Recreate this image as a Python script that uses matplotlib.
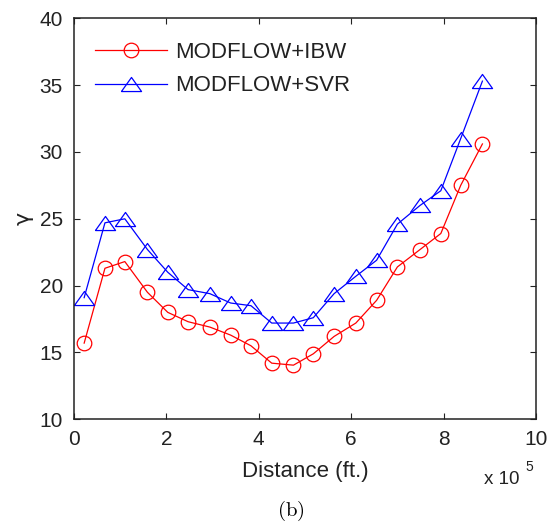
import matplotlib
matplotlib.use("Agg")
import matplotlib.pyplot as plt

# Data (x in units of 1e5 ft)
distance = [0.22, 0.67, 1.10, 1.59, 2.03, 2.47, 2.94, 3.39, 3.83, 4.28,
            4.75, 5.18, 5.63, 6.10, 6.55, 7.00, 7.49, 7.94, 8.37, 8.84]
ibw = [15.7, 21.3, 21.8, 19.5, 18.0, 17.3, 16.9, 16.3, 15.5, 14.2,
       14.05, 14.9, 16.2, 17.2, 18.9, 21.4, 22.7, 23.9, 27.5, 30.6]
svr = [19.1, 24.7, 25.0, 22.7, 21.0, 19.7, 19.4, 18.7, 18.5, 17.2,
       17.2, 17.6, 19.4, 20.7, 21.9, 24.6, 26.0, 27.1, 31.0, 35.3]
xticks = [0, 2, 4, 6, 8, 10]
yticks = [10, 15, 20, 25, 30, 35, 40]
labels = ["MODFLOW+IBW", "MODFLOW+SVR"]

plt.rcParams['font.family'] = ['Liberation Sans', 'DejaVu Sans']
plt.rcParams['mathtext.fontset'] = 'cm'

fig = plt.figure(figsize=(5.51, 5.31), dpi=100)
ax = fig.add_axes([74/551, 1-419.3/531, (536-74)/551, (419.3-18.3)/531])

tri = [(-1, -0.7), (1, -0.7), (0, 0.7), (-1, -0.7)]
ax.plot(distance, ibw, color='red', lw=0.9, marker='o', ms=10.5,
        mfc='none', mec='red', mew=0.9, label=labels[0])
ax.plot(distance, svr, color='blue', lw=0.9, marker=tri, ms=14.5,
        mfc='none', mec='blue', mew=0.9, label=labels[1])

ax.set_xlim(0, 10)
ax.set_ylim(10, 40)
ax.set_xticks(xticks)
ax.set_yticks(yticks)
ax.tick_params(direction='in', length=4, width=0.8, top=True, right=True,
               labelsize=15, colors='#222222', pad=8)
for s in ax.spines.values():
    s.set_linewidth(1.1)
    s.set_color('#222222')

ax.set_xlabel('Distance (ft.)', fontsize=16, color='#222222', labelpad=8)
ax.set_ylabel('γ', fontsize=16, color='#222222', labelpad=4,
              family=['DejaVu Sans'])

leg = ax.legend(loc='upper left', bbox_to_anchor=(0.008, 0.985), frameon=False,
                fontsize=16, handlelength=3.2, handletextpad=0.4,
                labelspacing=0.55, borderpad=0.3)
for t in leg.get_texts():
    t.set_color('#222222')

fig.text(484/551, 1-480/531, 'x 10', fontsize=13.5, color='#222222',
         ha='left', va='center')
fig.text(525/551, 1-467/531, '5', fontsize=10, color='#222222',
         ha='left', va='center')
fig.text(291/551, 1-511/531, r'$\mathrm{(b)}$', fontsize=15,
         ha='center', va='center')

fig.savefig('out.png', dpi=100)
